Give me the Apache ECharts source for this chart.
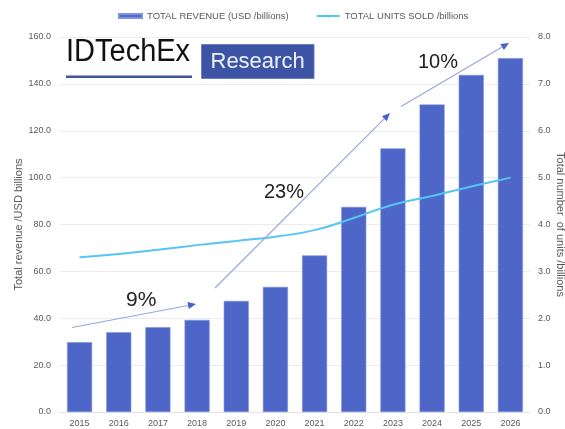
<!DOCTYPE html>
<html>
<head>
<meta charset="utf-8">
<script src="https://cdn.jsdelivr.net/npm/echarts@6/dist/echarts.min.js"></script>
<style>html,body{margin:0;padding:0;background:#fff;}#c{width:565px;height:429px;}</style>
</head>
<body>
<div id="c"></div>
<script>
const years = ['2015','2016','2017','2018','2019','2020','2021','2022','2023','2024','2025','2026'];
const revenue = [29.8, 34.0, 36.2, 39.3, 47.4, 53.4, 66.8, 87.5, 112.5, 131.2, 143.8, 151.0];
const units = [3.30, 3.37, 3.46, 3.56, 3.65, 3.74, 3.88, 4.14, 4.42, 4.61, 4.81, 5.00];
const growthLabels = ['9%', '23%', '10%'];

const chart = echarts.init(document.getElementById('c'), null, {renderer: 'canvas'});
const FONT = 'Liberation Sans, Arial, sans-serif';
const arrowColor = '#98a6e6';
const headColor = '#4a5fcf';

function arrow(x1, y1, x2, y2) {
  const ang = Math.atan2(y2 - y1, x2 - x1);
  const L = 8, W = 3.5;
  const bx = x2 - L * Math.cos(ang), by = y2 - L * Math.sin(ang);
  const px = -Math.sin(ang) * W, py = Math.cos(ang) * W;
  return [
    {type: 'line', shape: {x1: x1, y1: y1, x2: bx, y2: by}, style: {stroke: arrowColor, lineWidth: 1.2}, z: 100},
    {type: 'polygon', shape: {points: [[x2, y2], [bx + px, by + py], [bx - px, by - py]]}, style: {fill: headColor}, z: 100}
  ];
}

function label(text, x, y, size, color, extra) {
  return Object.assign({
    type: 'text', x: x, y: y, z: 101,
    style: {text: text, font: size + 'px ' + FONT, fill: color, textAlign: 'left', textVerticalAlign: 'middle', verticalAlign: 'middle'}
  }, extra || {});
}

const graphics = [].concat(
  arrow(72, 327.5, 196, 304),
  arrow(215, 288, 390, 113),
  arrow(401, 106.5, 509, 43),
  [
    label(growthLabels[0], 126, 300.5, 21, '#222'),
    label(growthLabels[1], 264, 192, 20, '#222'),
    label(growthLabels[2], 418, 62, 20, '#222'),
    label('IDTechEx', 66, 58.5, 29, '#111', {scaleY: 1.1, originY: 58.5}),
    {type: 'rect', shape: {x: 66, y: 75.5, width: 126, height: 2.5}, style: {fill: '#4155a8'}, z: 101},
    {type: 'rect', shape: {x: 201.5, y: 44.5, width: 112.5, height: 34}, style: {fill: '#3d54a4', stroke: '#6d7fc4', lineWidth: 1}, z: 101},
    label('Research', 210.5, 61.7, 22, '#eef1fa', {z: 102})
  ]
);

chart.setOption({
  animation: false,
  textStyle: {fontFamily: FONT},
  legend: {
    top: 6, left: 113, itemGap: 27,
    textStyle: {color: '#595959', fontSize: 9.5, fontFamily: FONT},
    data: [
      {name: 'TOTAL REVENUE (USD /billions)', icon: 'rect', itemStyle: {color: '#4d66c8'}},
      {name: 'TOTAL UNITS SOLD /billions'}
    ],
    itemWidth: 23, itemHeight: 4
  },
  grid: {left: 60, right: 35, top: 37, bottom: 17, containLabel: false, outerBoundsMode: 'none'},
  xAxis: {
    type: 'category', data: years,
    axisLine: {show: true, lineStyle: {color: '#e3e3e3'}},
    axisTick: {show: false},
    axisLabel: {color: '#595959', fontSize: 9, margin: 7}
  },
  yAxis: [
    {
      type: 'value', min: 0, max: 160, interval: 20,
      name: 'Total revenue /USD billions', nameLocation: 'middle', nameGap: 36, nameRotate: 90,
      nameMoveOverlap: false,
      nameTextStyle: {color: '#595959', fontSize: 11},
      axisLabel: {color: '#595959', fontSize: 9, formatter: v => v.toFixed(1), margin: 9},
      splitLine: {lineStyle: {color: '#ececec'}},
      axisLine: {show: false}, axisTick: {show: false}
    },
    {
      type: 'value', min: 0, max: 8, interval: 1, position: 'right',
      name: 'Total number  of units /billions', nameLocation: 'middle', nameGap: 25, nameRotate: -90,
      nameMoveOverlap: false,
      nameTextStyle: {color: '#595959', fontSize: 11},
      axisLabel: {color: '#595959', fontSize: 9, formatter: v => v.toFixed(1), margin: 8},
      splitLine: {show: false},
      axisLine: {show: false}, axisTick: {show: false}
    }
  ],
  series: [
    {
      name: 'TOTAL REVENUE (USD /billions)', type: 'bar', data: revenue,
      barCategoryGap: '36%',
      itemStyle: {color: '#4d66c8', borderColor: '#7f92dc', borderWidth: 0.6}
    },
    {
      name: 'TOTAL UNITS SOLD /billions', type: 'line', yAxisIndex: 1, data: units,
      smooth: true, symbol: 'none',
      lineStyle: {color: '#55c6f2', width: 2},
      itemStyle: {color: '#55c6f2'}
    }
  ],
  graphic: graphics
});
</script>
</body>
</html>
